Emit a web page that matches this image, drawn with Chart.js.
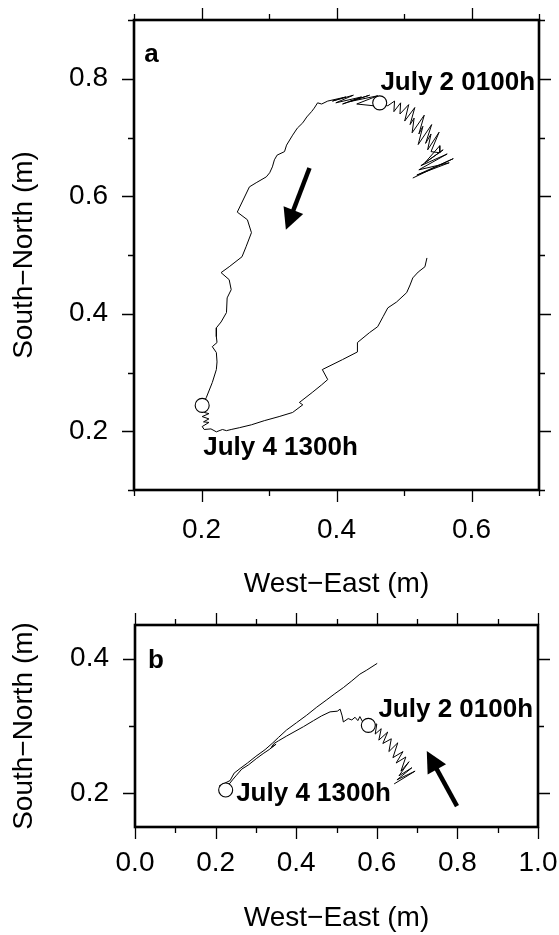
<!DOCTYPE html>
<html>
<head>
<meta charset="utf-8">
<script src="https://cdn.jsdelivr.net/npm/chart.js@4.4.1/dist/chart.umd.min.js"></script>
<style>
html,body{margin:0;padding:0;background:#fff;}
#cA{position:absolute;left:0;top:0;}
#cB{position:absolute;left:0;top:610px;}
</style>
</head>
<body>
<canvas id="cA" width="559" height="610" style="width:559px;height:610px"></canvas>
<canvas id="cB" width="559" height="325" style="width:559px;height:325px"></canvas>
<script>
// ---------- Panel a data (West-East / South-North displacement, m) ----------
const aPathX = [
0.513,0.573,0.519,0.567,0.522,0.564,0.525,0.558,0.531,0.553,0.553,0.540,0.552,0.535,0.540,0.532,0.541,0.521,0.528,0.522,0.530,0.512,0.515,0.509,0.516,0.501,0.507,0.494,0.495,0.485,0.486,0.476,0.464,
0.455,0.430,0.461,0.419,0.449,0.409,0.437,0.399,0.425,0.394,0.414,0.387,0.378,0.372,0.367,
0.363,0.356,0.350,0.342,0.335,0.326,0.323,0.312,0.308,0.305,0.301,0.296,0.281,0.271,0.253,0.268,0.274,0.266,0.260,0.241,0.229,0.241,0.244,0.238,0.237,0.229,0.222,0.222,0.223,0.216,0.222,0.223,0.222,0.216,0.207,0.201,
0.204,0.211,0.201,0.211,0.203,0.211,0.201,0.204,0.214,0.222,0.231,0.237,0.244,0.256,0.274,0.293,0.315,0.335,0.350,0.345,0.364,0.378,0.387,0.379,0.409,0.431,0.431,0.449,0.461,0.469,0.476,0.489,0.504,0.509,0.513,0.521,0.531,0.534
];
const aPathY = [
0.631,0.664,0.636,0.657,0.645,0.672,0.652,0.679,0.657,0.686,0.674,0.676,0.709,0.679,0.706,0.690,0.722,0.688,0.719,0.706,0.738,0.708,0.733,0.722,0.751,0.728,0.756,0.740,0.759,0.744,0.762,0.754,0.759,
0.754,0.757,0.771,0.761,0.772,0.757,0.769,0.759,0.772,0.762,0.769,0.762,0.757,0.759,0.750,
0.744,0.735,0.725,0.716,0.704,0.687,0.676,0.670,0.662,0.650,0.640,0.633,0.623,0.616,0.573,0.560,0.538,0.514,0.497,0.480,0.470,0.458,0.441,0.427,0.402,0.386,0.376,0.361,0.351,0.344,0.334,0.318,0.305,0.283,0.257,0.244,
0.232,0.230,0.225,0.221,0.216,0.215,0.208,0.203,0.204,0.199,0.203,0.201,0.203,0.206,0.211,0.218,0.225,0.232,0.245,0.249,0.266,0.279,0.288,0.305,0.322,0.335,0.351,0.368,0.378,0.395,0.410,0.420,0.436,0.449,0.461,0.471,0.480,0.495
];
const aMarkX = [0.464, 0.201];
const aMarkY = [0.759, 0.244];
const aLabelText = ['July 2 0100h', 'July 4 1300h'];
const aLabelX = [0.465, 0.2025];
const aLabelY = [0.781, 0.160];
const aArrowX = [0.360, 0.325];
const aArrowY = [0.648, 0.543];
const aXTicks = [0.1, 0.2, 0.3, 0.4, 0.5, 0.6, 0.7];
const aXMajor = [0.2, 0.4, 0.6];
const aXMajorLabels = ['0.2', '0.4', '0.6'];
const aYTicks = [0.1, 0.2, 0.3, 0.4, 0.5, 0.6, 0.7, 0.8, 0.9];
const aYMajor = [0.2, 0.4, 0.6, 0.8];
const aYMajorLabels = ['0.2', '0.4', '0.6', '0.8'];

// ---------- Panel b data ----------
const bPathX = [
0.643,0.695,0.650,0.687,0.655,0.680,0.660,0.672,0.648,0.665,0.640,0.652,0.630,0.636,0.615,0.627,0.605,0.611,0.596,0.600,0.579,
0.565,0.558,0.553,0.546,0.538,0.529,0.517,0.514,0.509,0.502,0.484,0.463,0.443,0.418,0.397,0.376,0.356,0.345,0.338,0.350,0.333,0.318,0.302,0.281,0.265,0.252,0.242,0.234,0.229,0.225,
0.209,0.219,0.236,0.246,0.261,0.279,0.300,0.323,0.342,0.356,0.376,0.401,0.426,0.451,0.476,0.496,0.517,0.538,0.558,0.575,0.601
];
const bPathY = [
0.214,0.233,0.220,0.238,0.226,0.247,0.233,0.254,0.245,0.262,0.253,0.275,0.262,0.281,0.274,0.291,0.279,0.296,0.288,0.303,0.301,
0.306,0.314,0.308,0.313,0.309,0.311,0.306,0.315,0.325,0.322,0.321,0.315,0.308,0.299,0.292,0.285,0.278,0.274,0.268,0.273,0.265,0.259,0.252,0.242,0.236,0.227,0.220,0.214,0.209,0.205,
0.211,0.214,0.219,0.230,0.237,0.245,0.255,0.265,0.275,0.283,0.294,0.305,0.316,0.328,0.339,0.348,0.357,0.367,0.377,0.383,0.393
];
const bMarkX = [0.579, 0.225];
const bMarkY = [0.301, 0.205];
const bLabelText = ['July 2 0100h', 'July 4 1300h'];
const bLabelX = [0.604, 0.251];
const bLabelY = [0.313, 0.189];
const bArrowX = [0.799, 0.724];
const bArrowY = [0.181, 0.263];
const bXTicks = [0.0, 0.1, 0.2, 0.3, 0.4, 0.5, 0.6, 0.7, 0.8, 0.9, 1.0];
const bXMajor = [0.0, 0.2, 0.4, 0.6, 0.8, 1.0];
const bXMajorLabels = ['0.0', '0.2', '0.4', '0.6', '0.8', '1.0'];
const bYTicks = [0.2, 0.3, 0.4];
const bYMajor = [0.2, 0.4];
const bYMajorLabels = ['0.2', '0.4'];

const FONT = '"Liberation Sans", Arial, Helvetica, sans-serif';

function pts(xs, ys) { return xs.map((x, i) => ({x: x, y: ys[i]})); }
function labelFor(v, majors, labels) {
  for (let i = 0; i < majors.length; i++) if (Math.abs(v - majors[i]) < 1e-9) return labels[i];
  return '';
}
function isMajor(v, majors) { return majors.some(m => Math.abs(m - v) < 1e-9); }

function framePlugin(spec) {
  return {
    id: 'frame_' + spec.panel,
    afterDatasetsDraw(chart) {
      const ctx = chart.ctx, xs = chart.scales.x, ys = chart.scales.y;
      // arrow
      const x0 = xs.getPixelForValue(spec.arrowX[0]), y0 = ys.getPixelForValue(spec.arrowY[0]);
      const x1 = xs.getPixelForValue(spec.arrowX[1]), y1 = ys.getPixelForValue(spec.arrowY[1]);
      const ang = Math.atan2(y1 - y0, x1 - x0), hl = 21, hw = 10.5;
      const bx = x1 - hl * Math.cos(ang), by = y1 - hl * Math.sin(ang);
      ctx.save();
      ctx.strokeStyle = '#000'; ctx.fillStyle = '#000';
      ctx.lineWidth = 4.5; ctx.lineCap = 'butt';
      ctx.beginPath(); ctx.moveTo(x0, y0);
      ctx.lineTo(bx + 2 * Math.cos(ang), by + 2 * Math.sin(ang)); ctx.stroke();
      ctx.beginPath(); ctx.moveTo(x1, y1);
      ctx.lineTo(bx - hw * Math.sin(ang), by + hw * Math.cos(ang));
      ctx.lineTo(bx + hw * Math.sin(ang), by - hw * Math.cos(ang));
      ctx.closePath(); ctx.fill();
      // text labels
      ctx.font = 'bold 26px ' + FONT; ctx.textAlign = 'left'; ctx.textBaseline = 'alphabetic';
      spec.labelText.forEach((t, i) => ctx.fillText(t, xs.getPixelForValue(spec.labelX[i]), ys.getPixelForValue(spec.labelY[i])));
      ctx.fillText(spec.panel, xs.getPixelForValue(spec.panelX), ys.getPixelForValue(spec.panelY));
      ctx.restore();
    },
    afterDraw(chart) {
      const ctx = chart.ctx, a = chart.chartArea, xs = chart.scales.x, ys = chart.scales.y;
      ctx.save();
      ctx.strokeStyle = '#000';
      ctx.lineWidth = 1.3;
      ctx.beginPath();
      spec.xTicks.forEach(v => {
        const p = Math.round(xs.getPixelForValue(v)) + 0.5, L = isMajor(v, spec.xMajor) ? 12 : 6;
        ctx.moveTo(p, a.bottom); ctx.lineTo(p, a.bottom + L);
        ctx.moveTo(p, a.top); ctx.lineTo(p, a.top - L);
      });
      spec.yTicks.forEach(v => {
        const p = Math.round(ys.getPixelForValue(v)) + 0.5, L = isMajor(v, spec.yMajor) ? 12 : 6;
        ctx.moveTo(a.left, p); ctx.lineTo(a.left - L, p);
        ctx.moveTo(a.right, p); ctx.lineTo(a.right + L, p);
      });
      ctx.stroke();
      ctx.lineWidth = 2.6;
      ctx.strokeRect(a.left, a.top, a.right - a.left, a.bottom - a.top);
      ctx.restore();
    }
  };
}

function makeChart(id, spec) {
  return new Chart(document.getElementById(id), {
    type: 'scatter',
    data: {
      datasets: [
        {data: pts(spec.markX, spec.markY), showLine: false, pointRadius: 7, pointHoverRadius: 7,
         pointBackgroundColor: '#fff', pointBorderColor: '#000', pointBorderWidth: 1.1, order: 0},
        {data: pts(spec.pathX, spec.pathY), showLine: true, borderColor: '#000', borderWidth: 1,
         pointRadius: 0, tension: 0, fill: false, order: 1}
      ]
    },
    options: {
      responsive: false, animation: false, events: [],
      layout: {padding: {top: spec.padTop, right: spec.padRight, left: 0, bottom: 0}},
      plugins: {legend: {display: false}, tooltip: {enabled: false}},
      scales: {
        x: {
          type: 'linear', position: 'bottom', min: spec.xMin, max: spec.xMax,
          afterBuildTicks: s => { s.ticks = spec.xTicks.map(v => ({value: v})); },
          afterFit: s => { s.height = spec.xAxisH; s.paddingLeft = 0; s.paddingRight = 0; },
          grid: {display: false, drawTicks: false}, border: {display: false},
          ticks: {autoSkip: false, maxRotation: 0, minRotation: 0, padding: spec.xTickPad, color: '#000',
                  font: {family: FONT, size: 28}, callback: v => labelFor(v, spec.xMajor, spec.xMajorLabels)},
          title: {display: true, text: 'West\u2212East (m)', color: '#000', font: {family: FONT, size: 28},
                  padding: {top: 0, bottom: spec.xTitlePad}}
        },
        y: {
          type: 'linear', position: 'left', min: spec.yMin, max: spec.yMax,
          afterBuildTicks: s => { s.ticks = spec.yTicks.map(v => ({value: v})); },
          afterFit: s => { s.width = spec.yAxisW; s.paddingTop = 0; s.paddingBottom = 0; },
          grid: {display: false, drawTicks: false}, border: {display: false},
          ticks: {autoSkip: false, padding: 26, color: '#000',
                  font: {family: FONT, size: 28}, callback: v => labelFor(v, spec.yMajor, spec.yMajorLabels)},
          title: {display: true, text: 'South\u2212North (m)', color: '#000', font: {family: FONT, size: 28},
                  padding: {top: 7, bottom: 0}}
        }
      }
    },
    plugins: [framePlugin(spec)]
  });
}

makeChart('cA', {
  panel: 'a', panelX: 0.115, panelY: 0.829,
  pathX: aPathX, pathY: aPathY, markX: aMarkX, markY: aMarkY,
  labelText: aLabelText, labelX: aLabelX, labelY: aLabelY,
  arrowX: aArrowX, arrowY: aArrowY,
  xMin: 0.1, xMax: 0.7, yMin: 0.1, yMax: 0.9,
  xTicks: aXTicks, xMajor: aXMajor, xMajorLabels: aXMajorLabels,
  yTicks: aYTicks, yMajor: aYMajor, yMajorLabels: aYMajorLabels,
  padTop: 20, padRight: 20, xAxisH: 120, yAxisW: 134, xTickPad: 23, xTitlePad: 9
});

makeChart('cB', {
  panel: 'b', panelX: 0.032, panelY: 0.386,
  pathX: bPathX, pathY: bPathY, markX: bMarkX, markY: bMarkY,
  labelText: bLabelText, labelX: bLabelX, labelY: bLabelY,
  arrowX: bArrowX, arrowY: bArrowY,
  xMin: 0.0, xMax: 1.0, yMin: 0.15, yMax: 0.45,
  xTicks: bXTicks, xMajor: bXMajor, xMajorLabels: bXMajorLabels,
  yTicks: bYTicks, yMajor: bYMajor, yMajorLabels: bYMajorLabels,
  padTop: 15, padRight: 21, xAxisH: 108, yAxisW: 135, xTickPad: 19, xTitlePad: 0
});
</script>
</body>
</html>
